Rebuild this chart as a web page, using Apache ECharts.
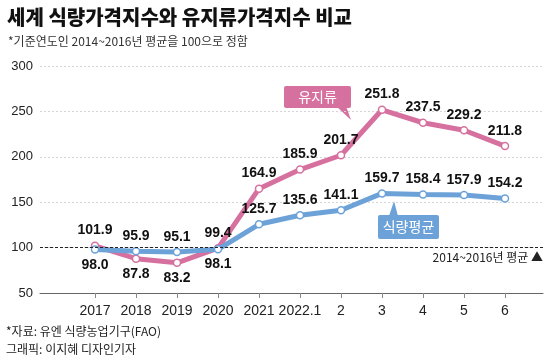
<!DOCTYPE html>
<html><head><meta charset="utf-8">
<script src="https://cdn.jsdelivr.net/npm/echarts@6/dist/echarts.min.js"></script>
<style>html,body{margin:0;padding:0;background:#fff}#c{width:560px;height:359px}</style>
</head><body><div id="c"></div>
<script>
const categories = ['2017','2018','2019','2020','2021','2022.1','2','3','4','5','6'];
const oilValues  = [101.9, 87.8, 83.2, 99.4, 164.9, 185.9, 201.7, 251.8, 237.5, 229.2, 211.8];
const foodValues = [98.0, 95.9, 95.1, 98.1, 125.7, 135.6, 141.1, 159.7, 158.4, 157.9, 154.2];
const yTicks = [50, 100, 150, 200, 250, 300];
const baseValue = 100;

const PINK = '#d6719f', BLUE = '#6ca2d8';
const NARROW = "'Liberation Sans Narrow','Arial Narrow','Liberation Sans',sans-serif";
const NUM_FONT = "'Liberation Sans',Arial,sans-serif";
const KR_FONT = "'Noto Sans CJK KR','Noto Sans',sans-serif";
const oilBelow = {1:true, 2:true};
const foodBelow = {0:true, 3:true};

function mk(vals, below) {
  return vals.map((v, i) => ({value: v, label: {position: below[i] ? 'bottom' : 'top'}}));
}
const labelStyle = {show: true, fontFamily: NUM_FONT, fontWeight: 'bold', fontSize: 14, color: '#111', distance: 4,
  formatter: p => p.value.toFixed(1)};

const chart = echarts.init(document.getElementById('c'), null, {renderer: 'canvas'});
chart.setOption({
  animation: false,
  grid: [
    {left: 40, right: 17, top: 66, bottom: 66},
    {left: 74.5, right: 34.5, top: 66, bottom: 66}
  ],
  xAxis: [
    {gridIndex: 0, type: 'value', min: 0, max: 1, axisLabel: {show: false}, axisTick: {show: false}, splitLine: {show: false},
     axisLine: {show: true, lineStyle: {color: '#666', width: 1}}},
    {gridIndex: 1, type: 'category', data: categories, boundaryGap: true,
     axisLine: {show: false}, axisTick: {show: true, alignWithLabel: true, length: 5, lineStyle: {color: '#888'}},
     axisLabel: {fontFamily: NARROW, fontSize: 14, color: '#222', margin: 11, interval: 0}}
  ],
  yAxis: [
    {gridIndex: 0, type: 'value', min: yTicks[0], max: yTicks[yTicks.length-1], interval: 50,
     axisLine: {show: false}, axisTick: {show: false},
     axisLabel: {fontFamily: NARROW, fontSize: 13, color: '#222', margin: 7},
     splitLine: {show: true, lineStyle: {color: '#d5d5d5', type: [2, 2], width: 1}}},
    {gridIndex: 1, type: 'value', min: yTicks[0], max: yTicks[yTicks.length-1], interval: 50, show: false}
  ],
  series: [
    {type: 'line', xAxisIndex: 0, yAxisIndex: 0, data: [], silent: true,
     markLine: {silent: true, symbol: 'none', label: {show: false},
       lineStyle: {color: '#222', type: [3, 2], width: 1}, data: [{yAxis: baseValue}]}},
    {name: '유지류', type: 'line', xAxisIndex: 1, yAxisIndex: 1, data: mk(oilValues, oilBelow),
     lineStyle: {color: PINK, width: 5}, itemStyle: {color: '#fff', borderColor: PINK, borderWidth: 1.5},
     symbol: 'circle', symbolSize: 7, label: labelStyle, z: 3},
    {name: '식량평균', type: 'line', xAxisIndex: 1, yAxisIndex: 1, data: mk(foodValues, foodBelow),
     lineStyle: {color: BLUE, width: 5}, itemStyle: {color: '#fff', borderColor: BLUE, borderWidth: 1.5},
     symbol: 'circle', symbolSize: 7, label: labelStyle, z: 4}
  ],
  graphic: [
    {type: 'text', left: 7, top: 7, style: {text: '세계 식량가격지수와 유지류가격지수 비교', font: "900 20px " + KR_FONT, fill: '#111'}},
    {type: 'text', left: 8, top: 35, style: {text: '*기준연도인 2014~2016년 평균을 100으로 정함', font: "12px " + KR_FONT, fill: '#333'}},
    {type: 'text', left: 6, top: 325, style: {text: '*자료: 유엔 식량농업기구(FAO)', font: "12px " + KR_FONT, fill: '#222'}},
    {type: 'text', left: 6, top: 343, style: {text: '그래픽: 이지혜 디자인기자', font: "12px " + KR_FONT, fill: '#222'}},
    {type: 'text', right: 17, top: 251, style: {text: '2014~2016년 평균 ▲', font: "12px " + KR_FONT, fill: '#222', align: 'right'}},
    {type: 'polygon', shape: {points: [[336, 106], [346, 106], [351, 120]]}, style: {fill: PINK}},
    {type: 'rect', shape: {x: 284, y: 86, width: 67, height: 22, r: 2}, style: {fill: PINK}},
    {type: 'text', x: 317.5, y: 97, style: {text: '유지류', font: "14px " + KR_FONT, fill: '#fff', align: 'center', verticalAlign: 'middle'}},
    {type: 'polygon', shape: {points: [[389, 216], [398, 216], [394, 201]]}, style: {fill: BLUE}},
    {type: 'rect', shape: {x: 378, y: 215, width: 61, height: 24, r: 2}, style: {fill: BLUE}},
    {type: 'text', x: 408.5, y: 227, style: {text: '식량평균', font: "14px " + KR_FONT, fill: '#fff', align: 'center', verticalAlign: 'middle'}}
  ]
});
</script></body></html>
